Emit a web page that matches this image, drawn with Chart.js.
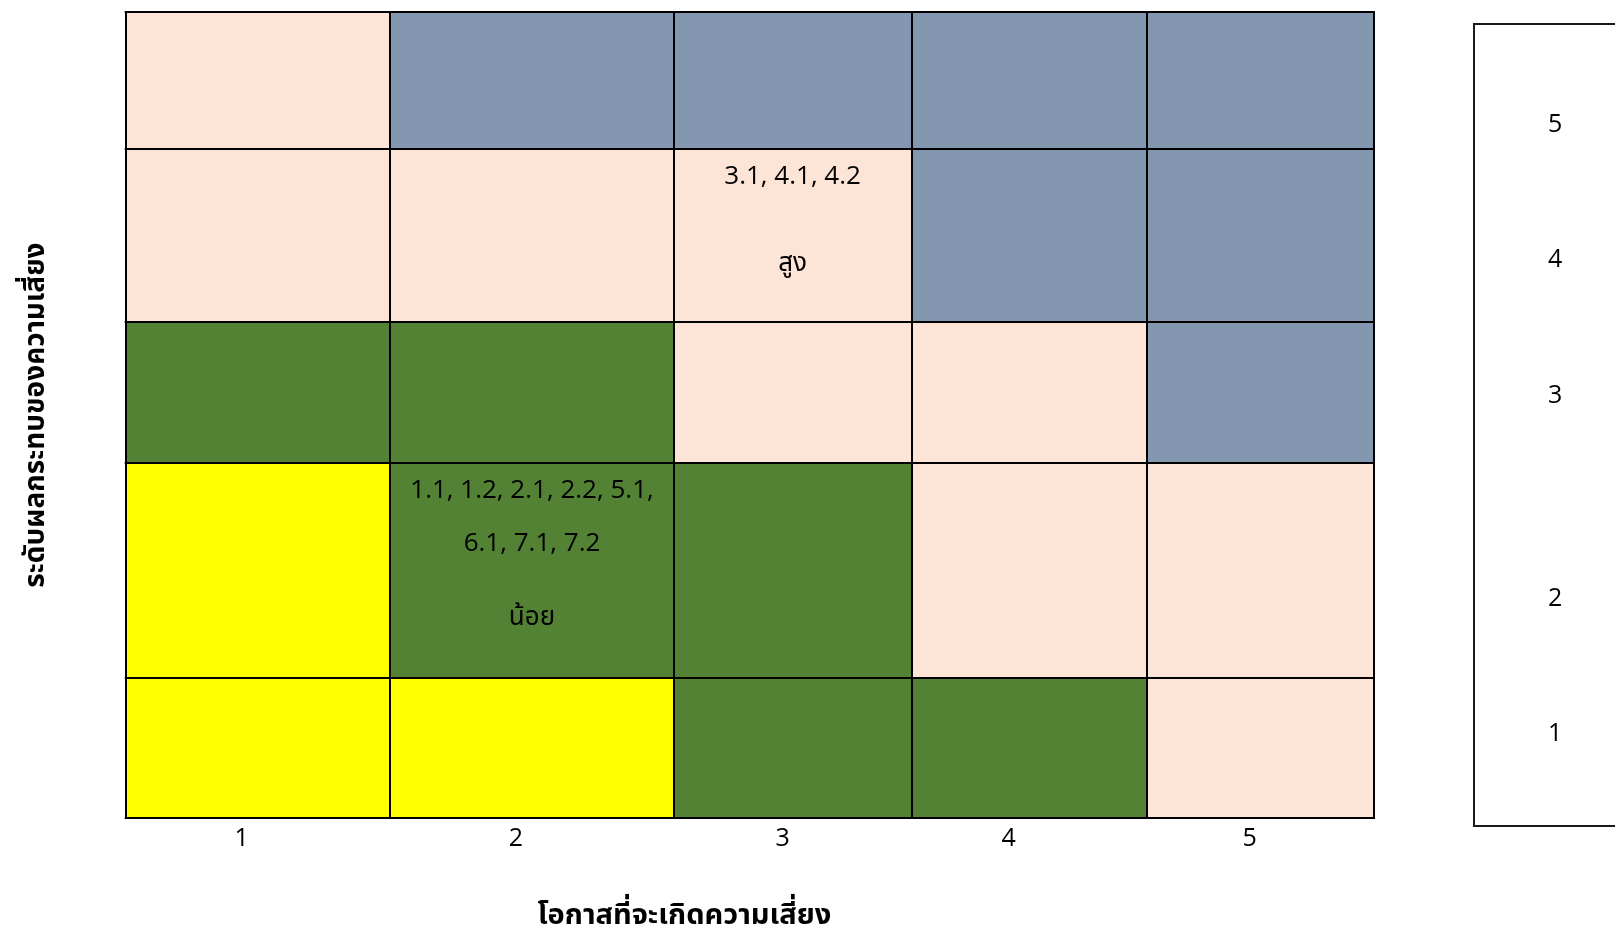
<!DOCTYPE html>
<html>
<head>
<meta charset="utf-8">
<script src="https://cdn.jsdelivr.net/npm/chart.js@4.4.1/dist/chart.umd.min.js"></script>
<style>
  html, body { margin: 0; padding: 0; background: #ffffff; }
  canvas { display: block; }
</style>
</head>
<body>
<canvas id="c" width="1615" height="928"></canvas>
<script>
// ---- data ----
const likelihoodLabels = ['1', '2', '3', '4', '5'];      // x axis (โอกาสที่จะเกิดความเสี่ยง)
const impactLabels = ['1', '2', '3', '4', '5'];          // y axis (ระดับผลกระทบของความเสี่ยง)
const xTitle = 'โอกาสที่จะเกิดความเสี่ยง';
const yTitle = 'ระดับผลกระทบของความเสี่ยง';

// risk level of each cell; rows = impact 1..5, columns = likelihood 1..5
const levelImpact1 = ['low', 'low', 'medium', 'medium', 'high'];
const levelImpact2 = ['low', 'medium', 'medium', 'high', 'high'];
const levelImpact3 = ['medium', 'medium', 'high', 'high', 'veryhigh'];
const levelImpact4 = ['high', 'high', 'high', 'veryhigh', 'veryhigh'];
const levelImpact5 = ['high', 'veryhigh', 'veryhigh', 'veryhigh', 'veryhigh'];
const levels = [levelImpact1, levelImpact2, levelImpact3, levelImpact4, levelImpact5];

// risk items placed in cells
const itemsHigh = ['3.1', '4.1', '4.2'];
const itemsLow = ['1.1', '1.2', '2.1', '2.2', '5.1', '6.1', '7.1', '7.2'];
const cellNotes = [
  { likelihood: 3, impact: 4, items: itemsHigh, label: 'สูง' },
  { likelihood: 2, impact: 2, items: itemsLow, label: 'น้อย' }
];

// ---- layout (scale units) ----
const colEdges = [0, 264.7, 547.9, 785.9, 1021, 1248.3];
const rowEdges = [0, 139.4, 355.2, 495.3, 668.4, 805.3];
const xTickPos = [116, 390.3, 657, 883, 1124];
const y2TickPos = [83.4, 219.3, 422.2, 558.2, 692.7];
const boxRange = { x0: 1348.3, x1: 1800, y0: -8.3, y1: 793.7 };
const xTitlePos = 558.8;   // x-units, centre of x axis title
const noteLines = { // line centres, px below cell top; items split per line
  '3-4': { split: [3], ys: [27.7, 114.2] },
  '2-2': { split: [5, 3], ys: [27.8, 81.5, 155] }
};

const colors = {
  low: '#FFFF00',
  medium: '#548235',
  high: '#FCE4D6',
  veryhigh: '#8497B0'
};

const FONT = "'Open Sans', 'Noto Sans Thai', 'Noto Sans', sans-serif";

const cellPlugin = {
  id: 'cells',
  beforeDatasetsDraw(chart) {
    const { ctx, scales: { x, y, y2 } } = chart;
    ctx.save();
    // fills
    for (let r = 0; r < levels.length; r++) {
      for (let c = 0; c < levels[r].length; c++) {
        const x0 = x.getPixelForValue(colEdges[c]);
        const x1 = x.getPixelForValue(colEdges[c + 1]);
        const y0 = y.getPixelForValue(rowEdges[r + 1]);
        const y1 = y.getPixelForValue(rowEdges[r]);
        ctx.fillStyle = colors[levels[r][c]];
        ctx.fillRect(x0, y0, x1 - x0, y1 - y0);
      }
    }
    // grid lines
    ctx.strokeStyle = '#000000';
    ctx.lineWidth = 2;
    const top = y.getPixelForValue(rowEdges[rowEdges.length - 1]);
    const bottom = y.getPixelForValue(rowEdges[0]);
    const left = x.getPixelForValue(colEdges[0]);
    const right = x.getPixelForValue(colEdges[colEdges.length - 1]);
    ctx.beginPath();
    colEdges.forEach(v => {
      const px = Math.round(x.getPixelForValue(v));
      ctx.moveTo(px, top - 1); ctx.lineTo(px, bottom + 1);
    });
    rowEdges.forEach(v => {
      const py = Math.round(y.getPixelForValue(v));
      ctx.moveTo(left - 1, py); ctx.lineTo(right + 1, py);
    });
    ctx.stroke();

    // notes
    ctx.fillStyle = '#000000';
    ctx.textAlign = 'center';
    ctx.textBaseline = 'middle';
    cellNotes.forEach(n => {
      const key = n.likelihood + '-' + n.impact;
      const lay = noteLines[key];
      const cx = (x.getPixelForValue(colEdges[n.likelihood - 1]) + x.getPixelForValue(colEdges[n.likelihood])) / 2;
      const cellTop = y.getPixelForValue(rowEdges[n.impact]);
      let idx = 0;
      const lines = [];
      lay.split.forEach((cnt) => {
        const part = n.items.slice(idx, idx + cnt);
        idx += cnt;
        lines.push(part.join(', ') + (idx < n.items.length ? ',' : ''));
      });
      lines.push(n.label);
      ctx.font = '26px ' + FONT;
      lines.forEach((t, i) => ctx.fillText(t, cx, cellTop + lay.ys[i]));
    });

    // right-hand box
    const bx0 = x.getPixelForValue(boxRange.x0);
    const bx1 = x.getPixelForValue(boxRange.x1);
    const by0 = y2.getPixelForValue(boxRange.y1);
    const by1 = y2.getPixelForValue(boxRange.y0);
    ctx.strokeStyle = '#1a1a1a';
    ctx.lineWidth = 2;
    ctx.strokeRect(Math.round(bx0), Math.round(by0), bx1 - bx0, Math.round(by1 - by0));

    // x axis title (offset left of the plot centre, as in the original)
    ctx.fillStyle = '#000000';
    ctx.font = 'bold 29px ' + FONT;
    ctx.textAlign = 'center';
    ctx.textBaseline = 'middle';
    ctx.fillText(xTitle, x.getPixelForValue(xTitlePos), x.bottom - 12);
    ctx.restore();
  }
};

new Chart(document.getElementById('c'), {
  type: 'scatter',
  data: { datasets: [{ data: [], showLine: false }] },
  options: {
    responsive: false,
    animation: false,
    devicePixelRatio: 1,
    layout: { padding: { top: 12.4, left: 0, right: 0, bottom: 0 } },
    plugins: { legend: { display: false }, tooltip: { enabled: false } },
    scales: {
      x: {
        type: 'linear',
        position: 'bottom',
        min: colEdges[0],
        max: colEdges[colEdges.length - 1],
        grid: { display: false },
        border: { display: false },
        afterBuildTicks(scale) { scale.ticks = xTickPos.map(v => ({ value: v })); },
        afterFit(scale) { scale.height = 928 - 817.7; scale.paddingLeft = 0; scale.paddingRight = 0; },
        ticks: {
          autoSkip: false,
          maxRotation: 0,
          padding: 0.5,
          color: '#000000',
          font: { family: FONT, size: 25, lineHeight: 1 },
          callback: (v, i) => likelihoodLabels[i]
        },
        title: { display: false, text: xTitle }
      },
      y: {
        type: 'linear',
        position: 'left',
        min: rowEdges[0],
        max: rowEdges[rowEdges.length - 1],
        grid: { display: false },
        border: { display: false },
        ticks: { display: false },
        afterFit(scale) { scale.width = 125.7; scale.paddingTop = 0; scale.paddingBottom = 0; },
        title: {
          display: true,
          text: yTitle,
          color: '#000000',
          font: { family: FONT, size: 28, weight: 'bold', lineHeight: 1.2 },
          padding: { top: 19, bottom: 0 }
        }
      },
      y2: {
        type: 'linear',
        position: 'right',
        min: rowEdges[0],
        max: rowEdges[rowEdges.length - 1],
        grid: { display: false },
        border: { display: false },
        afterBuildTicks(scale) { scale.ticks = y2TickPos.map(v => ({ value: v })); },
        afterFit(scale) { scale.width = 1615 - 1374; scale.paddingTop = 0; scale.paddingBottom = 0; },
        ticks: {
          autoSkip: false,
          padding: 166,
          color: '#000000',
          font: { family: FONT, size: 25 },
          callback: (v, i) => impactLabels[i]
        }
      }
    }
  },
  plugins: [cellPlugin]
});
</script>
</body>
</html>
